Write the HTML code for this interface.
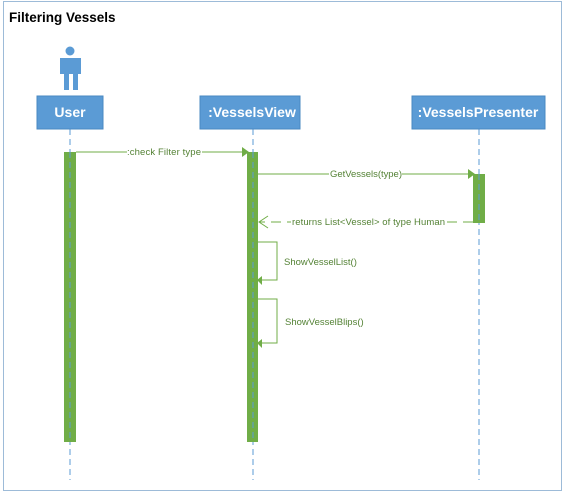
<!DOCTYPE html>
<html><head><style>body{margin:0;background:#fff}svg{display:block}</style></head><body>
<svg width="565" height="493" xmlns="http://www.w3.org/2000/svg" font-family="Liberation Sans, sans-serif">
<rect x="3.5" y="1.5" width="558" height="489" fill="#fff" stroke="#9dbbd8" stroke-width="1"/>
<text x="9" y="22" font-size="13.5" font-weight="bold" fill="#000">Filtering Vessels</text>
<!-- actor -->
<circle cx="70" cy="51" r="4.5" fill="#5b9bd5"/>
<path d="M60 58 h21 v16 h-3 v16 h-5 v-16 h-4 v16 h-5 v-16 h-4z" fill="#5b9bd5"/>
<!-- lifelines -->
<g stroke="#5b9bd5" stroke-dasharray="6,4" stroke-width="1">
<line x1="70" y1="129" x2="70" y2="480"/>
<line x1="253" y1="129" x2="253" y2="480"/>
<line x1="479" y1="129" x2="479" y2="480"/>
</g>
<!-- boxes -->
<g fill="#5b9bd5" stroke="#4a88c2"><rect x="37" y="96" width="66" height="33"/><rect x="200" y="96" width="100" height="33"/><rect x="412" y="96" width="133" height="33"/></g>
<g fill="#fff" font-size="14" font-weight="bold" text-anchor="middle">
<text x="70" y="117">User</text><text x="252" y="117">:VesselsView</text><text x="478" y="117">:VesselsPresenter</text></g>
<!-- activations -->
<g fill="#70ad47"><rect x="64" y="152" width="12" height="290"/><rect x="247" y="152" width="11" height="290"/><rect x="473" y="174" width="12" height="49"/></g>
<g stroke="#5b9bd5" stroke-dasharray="6,4"><line x1="70" y1="152" x2="70" y2="442"/><line x1="253" y1="152" x2="253" y2="442"/><line x1="479" y1="174" x2="479" y2="223"/></g>
<!-- messages -->
<g stroke="#70ad47" fill="none" stroke-width="1">
<line x1="76" y1="152" x2="242" y2="152"/>
<line x1="258" y1="174" x2="468" y2="174"/>
<line x1="473" y1="222" x2="260" y2="222" stroke-dasharray="10,6"/>
<path d="M268 216 L259 222 L268 228"/>
<path d="M258 242 H277 V280 H262"/>
<path d="M258 299 H277 V343 H262"/>
</g>
<g fill="#70ad47">
<path d="M242 147 L249 152 L242 157z"/>
<path d="M468 169 L475 174 L468 179z"/>
<path d="M262 276 L257 280 L262 285z"/>
<path d="M262 339 L257 343 L262 348z"/>
</g>
<g font-size="9.5" fill="#548235">
<rect x="127" y="146" width="75" height="11" fill="#fff"/>
<text x="127" y="155" textLength="74">:check Filter type</text>
<rect x="329" y="168" width="73" height="11" fill="#fff"/>
<text x="330" y="177" textLength="72">GetVessels(type)</text>
<rect x="291" y="216" width="155" height="11" fill="#fff"/>
<text x="292" y="225" textLength="153">returns List&lt;Vessel&gt; of type Human</text>
<text x="284" y="265">ShowVesselList()</text>
<text x="285" y="325">ShowVesselBlips()</text>
</g>
</svg>
</body></html>
